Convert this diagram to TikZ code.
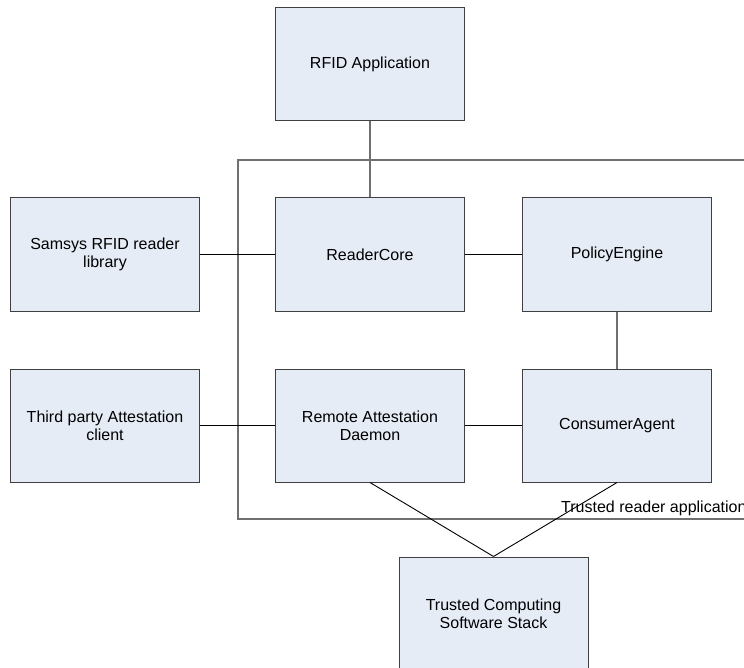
\documentclass[tikz,border=0pt]{standalone}
\usepackage{fontspec}
\setmainfont{Liberation Sans}
\usepackage{xcolor}
\usepackage{tikz}
\usetikzlibrary{positioning}

\definecolor{boxfill}{HTML}{E6ECF6}
\definecolor{boxline}{HTML}{404040}
\definecolor{grayline}{HTML}{707070}

\tikzset{
  module/.style={draw=boxline,fill=boxfill,line width=1pt,
    minimum width=189pt,minimum height=113pt,align=center,
    inner sep=2pt,font=\fontsize{16}{18.4}\selectfont},
  link/.style={draw=black,line width=0.9pt},
  graylink/.style={draw=grayline,line width=2pt}
}

\begin{document}
\begin{tikzpicture}[x=1pt,y=-1pt]
    \useasboundingbox[fill=white] (0,0) rectangle (744,668);

    % trusted reader application frame
    \draw[graylink] (760,160) -- (238,160) -- (238,519) -- (760,519);
    \node[anchor=south west,inner sep=0pt,font=\fontsize{16}{18.4}\selectfont]
      (frame) at (561,516) {Trusted reader application};

    \node[module] (core) at (370,254.5) {ReaderCore};
    \node[module,above=76pt of core] (rfid) {RFID Application};
    \node[module,left=75pt of core] (samsys) {Samsys RFID reader\\library};
    \node[module,right=57pt of core] (policy) {PolicyEngine};
    \node[module,below=57pt of core] (rad) {Remote Attestation\\Daemon};
    \node[module,left=75pt of rad] (third) {Third party Attestation\\client};
    \node[module,right=57pt of rad] (agent) {ConsumerAgent};
    \node[module] (tcss) at (493.5,613.5) {Trusted Computing\\Software Stack};

    \draw[graylink] (rfid.south) -- (core.north);
    \draw[graylink] (policy.south) -- (agent.north);
    \draw[link] (samsys.east) -- (core.west);
    \draw[link] (core.east) -- (policy.west);
    \draw[link] (third.east) -- (rad.west);
    \draw[link] (rad.east) -- (agent.west);
    \draw[link] (rad.south) -- (tcss.north);
    \draw[link] (agent.south) -- (tcss.north);
  \end{tikzpicture}
\end{document}
